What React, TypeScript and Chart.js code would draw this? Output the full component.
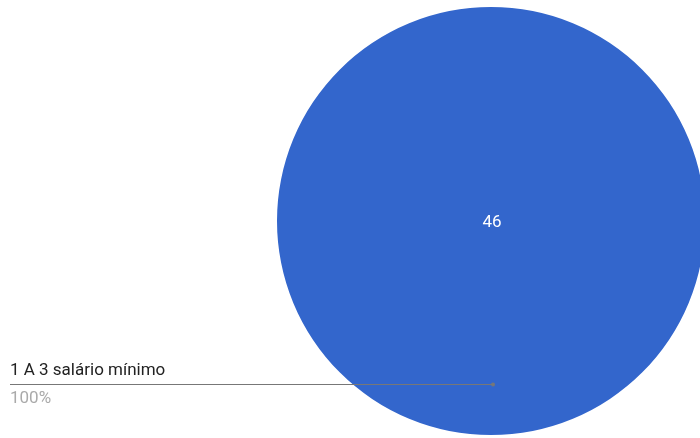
import React, { useEffect, useRef } from "react";
import { Chart, registerables } from "chart.js";

Chart.register(...registerables);

const categories: string[] = ["1 A 3 salário mínimo"];
const values: number[] = [46];
const colors: string[] = ["#3366cc"];

const labelPlugin = {
  id: "pieLabels",
  afterDatasetsDraw(chart: any) {
    const ctx = chart.ctx;
    const meta = chart.getDatasetMeta(0);
    const ds = chart.data.datasets[0].data as number[];
    const total = ds.reduce((a: number, b: number) => a + b, 0);
    meta.data.forEach((arc: any, i: number) => {
      const { x, y, outerRadius } = arc.getProps(["x", "y", "outerRadius"], true);
      ctx.save();
      // value in center
      ctx.fillStyle = "#ffffff";
      ctx.font = "17px Roboto";
      ctx.textAlign = "center";
      ctx.textBaseline = "alphabetic";
      ctx.fillText(String(ds[i]), x + 1, y + 6);
      // leader line
      const ex = x + 2;
      const ey = y + outerRadius * 0.76;
      const lineY = Math.round(ey) + 0.5;
      ctx.strokeStyle = "#777777";
      ctx.lineWidth = 1;
      ctx.beginPath();
      ctx.moveTo(10, lineY);
      ctx.lineTo(ex, lineY);
      ctx.stroke();
      ctx.fillStyle = "#777777";
      ctx.beginPath();
      ctx.arc(ex, lineY, 2, 0, Math.PI * 2);
      ctx.fill();
      // labels
      ctx.textAlign = "left";
      ctx.font = "17px Roboto";
      ctx.fillStyle = "#222222";
      ctx.fillText(chart.data.labels[i], 10, lineY - 9.5);
      ctx.fillStyle = "#aaaaaa";
      ctx.fillText(Math.round((ds[i] / total) * 100) + "%", 10, lineY + 18.5);
      ctx.restore();
    });
  },
};

export default function App() {
  const ref = useRef<HTMLCanvasElement | null>(null);
  useEffect(() => {
    if (!ref.current) return;
    const chart = new Chart(ref.current, {
      type: "pie",
      data: {
        labels: categories,
        datasets: [
          {
            data: values,
            backgroundColor: colors,
            borderWidth: 0,
          },
        ],
      },
      options: {
        responsive: false,
        animation: false,
        layout: { padding: { top: 7, bottom: 3, left: 277, right: 15 } },
        plugins: {
          legend: { display: false },
          tooltip: { enabled: false },
        },
      },
      plugins: [labelPlugin],
    });
    return () => chart.destroy();
  }, []);
  return (
    <div
      style={{
        position: "absolute",
        left: 0,
        top: 0,
        width: 700,
        height: 438,
        overflow: "hidden",
        background: "#ffffff",
      }}
    >
      <canvas ref={ref} width={720} height={438} style={{ width: 720, height: 438 }} />
    </div>
  );
}
